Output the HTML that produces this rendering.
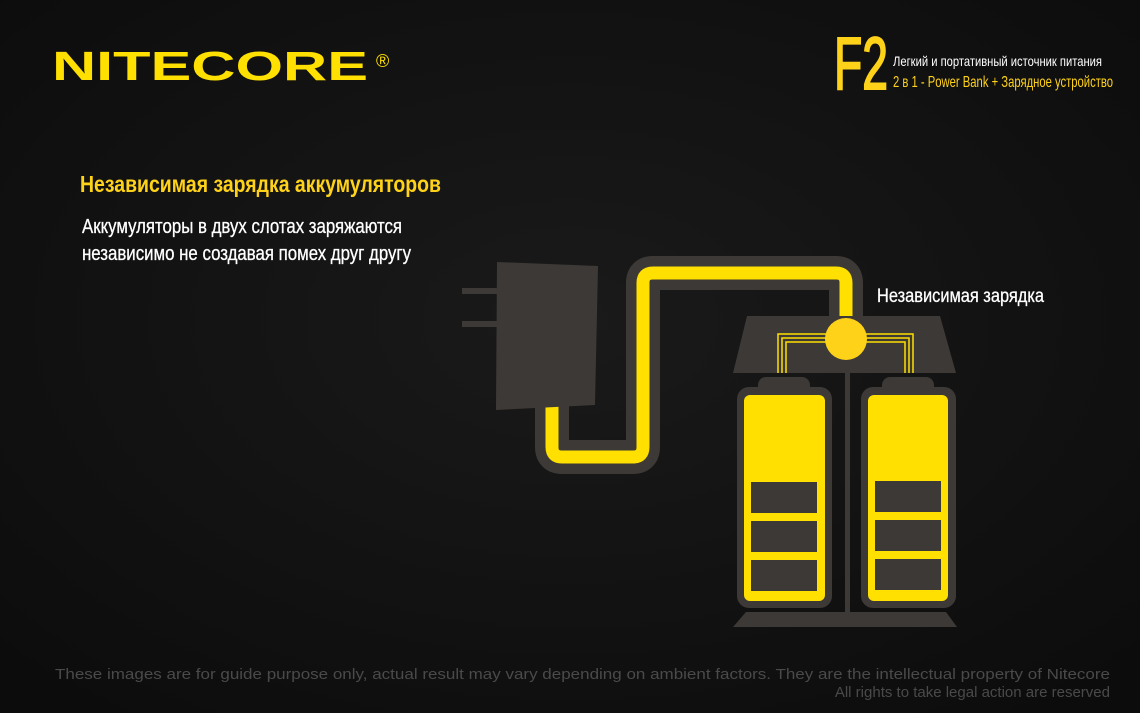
<!DOCTYPE html>
<html><head><meta charset="utf-8"><style>
html,body{margin:0;padding:0;background:#121212;}
svg{display:block}
</style></head><body>
<svg width="1140" height="713" viewBox="0 0 1140 713" xmlns="http://www.w3.org/2000/svg">
<defs><radialGradient id="bg" cx="50%" cy="45%" r="70%"><stop offset="0" stop-color="#1a1a1a"/><stop offset="1" stop-color="#0c0c0c"/></radialGradient></defs>
<rect width="1140" height="713" fill="url(#bg)"/>
<g font-family="'Liberation Sans Narrow','Liberation Sans',sans-serif">
<text x="52" y="80" font-family="'Liberation Sans',sans-serif" font-weight="bold" font-size="41" fill="#ffe000" textLength="316" lengthAdjust="spacingAndGlyphs">NITECORE</text>
<text x="376" y="67" font-family="'Liberation Sans',sans-serif" font-size="18" fill="#ffe000">®</text>
<text x="834" y="89" font-size="74" fill="#ffd21a" stroke="#ffd21a" stroke-width="2" textLength="54" lengthAdjust="spacingAndGlyphs">F2</text>
<text x="893" y="66" font-size="14" fill="#fff" textLength="209" lengthAdjust="spacingAndGlyphs">Легкий и портативный источник питания</text>
<text x="893" y="87" font-size="16" fill="#ffd21a" textLength="220" lengthAdjust="spacingAndGlyphs">2 в 1 - Power Bank + Зарядное устройство</text>
<text x="80" y="192" font-size="23" font-weight="bold" fill="#ffd21a" textLength="361" lengthAdjust="spacingAndGlyphs">Независимая зарядка аккумуляторов</text>
<text x="82" y="233" font-size="20" fill="#fff" stroke="#fff" stroke-width="0.3" textLength="320" lengthAdjust="spacingAndGlyphs">Аккумуляторы в двух слотах заряжаются</text>
<text x="82" y="260" font-size="20" fill="#fff" stroke="#fff" stroke-width="0.3" textLength="329" lengthAdjust="spacingAndGlyphs">независимо не создавая помех друг другу</text>
<text x="877" y="302" font-size="19" fill="#fff" stroke="#fff" stroke-width="0.3" textLength="167" lengthAdjust="spacingAndGlyphs">Независимая зарядка</text>
</g>
<g font-family="'Liberation Sans',sans-serif" font-size="15" fill="#4a4a4a">
<text x="55" y="679" textLength="1055" lengthAdjust="spacingAndGlyphs">These images are for guide purpose only, actual result may vary depending on ambient factors. They are the intellectual property of Nitecore</text>
<text x="1110" y="697" text-anchor="end">All rights to take legal action are reserved</text>
</g>
<rect x="462" y="288" width="35" height="6" fill="#3d3936"/>
<rect x="462" y="321" width="35" height="6" fill="#3d3936"/>
<path d="M552 400 V447 Q552 457 562 457 H633 Q643 457 643 447 V283 Q643 273 653 273 H836 Q846 273 846 283 V338" fill="none" stroke="#3d3936" stroke-width="34" stroke-linejoin="round"/>
<path d="M552 400 V447 Q552 457 562 457 H633 Q643 457 643 447 V283 Q643 273 653 273 H836 Q846 273 846 283 V338" fill="none" stroke="#ffe000" stroke-width="13"/>
<path d="M497 262 L598 266 L595 405 L496 410 Z" fill="#3d3936"/>
<path d="M747 316 L940 316 L956 373 L733 373 Z" fill="#3d3936"/>
<g fill="none" stroke="#ffe000" stroke-width="1.5">
<path d="M830 334 H778 V373"/><path d="M830 338 H782 V373"/><path d="M830 342 H786 V373"/>
<path d="M862 334 H913 V373"/><path d="M862 338 H909 V373"/><path d="M862 342 H905 V373"/>
</g>
<circle cx="846" cy="339" r="21" fill="#ffd21a"/>
<rect x="845" y="373" width="5" height="240" fill="#3d3936"/>
<path d="M746 612 L946 612 L957 627 L733 627 Z" fill="#3d3936"/>
<g>
<rect x="758" y="377" width="52" height="20" rx="8" fill="#3d3936"/>
<rect x="737" y="387" width="95" height="221" rx="12" fill="#3d3936"/>
<rect x="744" y="395" width="81" height="206" rx="6" fill="#ffe000"/>
<rect x="751" y="482" width="66" height="31" fill="#3d3936"/>
<rect x="751" y="521" width="66" height="31" fill="#3d3936"/>
<rect x="751" y="560" width="66" height="31" fill="#3d3936"/>
</g>
<g>
<rect x="882" y="377" width="52" height="20" rx="8" fill="#3d3936"/>
<rect x="861" y="387" width="95" height="221" rx="12" fill="#3d3936"/>
<rect x="868" y="395" width="80" height="206" rx="6" fill="#ffe000"/>
<rect x="875" y="481" width="66" height="31" fill="#3d3936"/>
<rect x="875" y="520" width="66" height="31" fill="#3d3936"/>
<rect x="875" y="559" width="66" height="31" fill="#3d3936"/>
</g>
</svg>
</body></html>
